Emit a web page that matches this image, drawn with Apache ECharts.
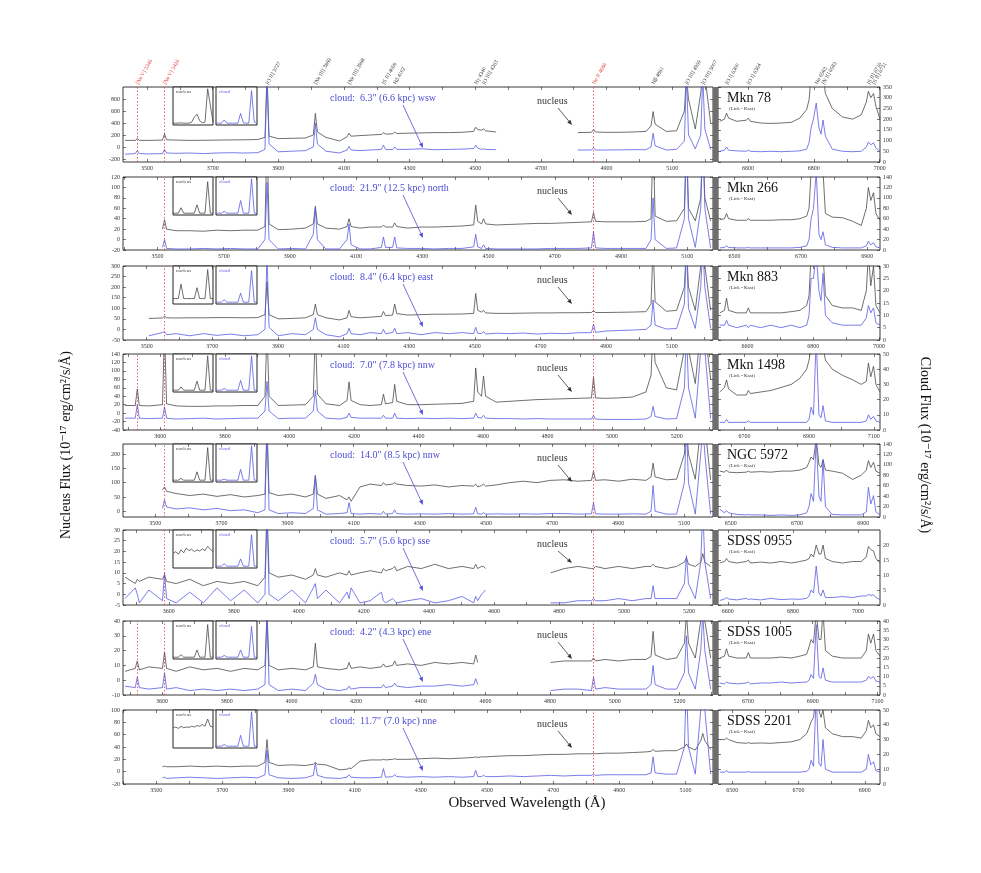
<!DOCTYPE html>
<html>
<head>
<meta charset="utf-8">
<script src="https://cdn.jsdelivr.net/npm/echarts@6/dist/echarts.min.js"></script>
<style>
html, body { margin: 0; background: #fff; }
#chart { width: 981px; height: 873px; }
</style>
</head>
<body>
<div id="chart"></div>
<script>
const _ = null

// galaxies, one row each
const names = ['Mkn 78', 'Mkn 266', 'Mkn 883', 'Mkn 1498', 'NGC 5972', 'SDSS 0955', 'SDSS 1005', 'SDSS 2201']
const zFactor = [1.0372, 1.0279, 1.0375, 1.0547, 1.0297, 1.047, 1.053, 1.029]
const cloudNotes = [
  'cloud:  6.3" (6.6 kpc) wsw', 'cloud:  21.9" (12.5 kpc) north', 'cloud:  8.4" (6.4 kpc) east',
  'cloud:  7.0" (7.8 kpc) nnw', 'cloud:  14.0" (8.5 kpc) nnw', 'cloud:  5.7" (5.6 kpc) sse',
  'cloud:  4.2" (4.3 kpc) ene', 'cloud:  11.7" (7.0 kpc) nne'
]

// rest-frame sampling (Angstrom)
const leftRest = [3310, 3340, 3346, 3352, 3380, 3420, 3426, 3432, 3460, 3500,
  3540, 3580, 3620, 3660, 3700, 3721, 3727, 3733, 3760, 3800,
  3840, 3863, 3869, 3875, 3900, 3940, 3962, 3968, 3974, 4000,
  4030, 4063, 4069, 4075, 4096, 4102, 4108, 4140, 4180, 4220,
  4260, 4300, 4334, 4340, 4346, 4357, 4363, 4369, 4400, 4440,
  4480, 4520, 4560, 4600, 4640, 4680, 4686, 4692, 4720, 4760,
  4800, 4840, 4855, 4861, 4867, 4900, 4930, 4953, 4959, 4965,
  4985, 5001, 5007, 5013, 5030]
const rightRest = [6280, 6294, 6300, 6306, 6330, 6358, 6364, 6370, 6400, 6430,
  6460, 6490, 6515, 6535, 6542, 6548, 6555, 6563, 6571, 6577,
  6583, 6590, 6610, 6640, 6670, 6695, 6710, 6716, 6723, 6731,
  6738, 6750]

const nucleusLeft = [
  [110, 110, 140, 110, 110, 115, 220, 120, 115, 110, 112, 115, 118, 120, 125, 160, 1200, 180, 140, 145,
    150, 200, 560, 250, 160, 100, 170, 230, 180, 190, 200, 210, 240, 215, 220, 250, 225, 230, 235, 240,
    240, 245, 260, 330, 290, 280, 300, 270, 250, _, _, _, _, _, 240, 245, 290, 250, 245, 245,
    250, 260, 350, 590, 380, 260, 270, 600, 1200, 800, 300, 900, 1200, 1200, 400],
  [_, _, _, _, _, 20, 38, 20, 17, 17, 16, 18, 17, 18, 18, 25, 200, 30, 19, 20,
    22, 30, 64, 30, 22, 20, 25, 40, 25, 22, 24, 24, 28, 24, 24, 32, 25, 22, 24, 24,
    25, 26, 28, 66, 35, 30, 40, 30, 28, 29, 30, 31, 31, 32, 33, 34, 52, 35, 34, 34,
    34, 35, 40, 200, 45, 35, 36, 60, 200, 60, 36, 80, 200, 80, 36],
  [_, _, _, _, 52, 54, 62, 55, 54, 55, 55, 56, 56, 55, 56, 70, 225, 70, 50, 52,
    55, 70, 120, 70, 55, 45, 55, 90, 60, 55, 58, 62, 85, 65, 68, 120, 75, 68, 70, 72,
    72, 73, 76, 170, 90, 82, 90, 78, 76, 76, 77, 78, 78, 79, 79, 80, 90, 80, 80, 81,
    82, 84, 120, 400, 130, 86, 90, 200, 400, 200, 90, 300, 400, 300, 90],
  [18, 18, 57, 18, 17, 20, 200, 22, 17, 16, 16, 17, 17, 18, 18, 40, 200, 40, 18, 19,
    20, 40, 200, 45, 22, 18, 30, 74, 30, 20, 18, 20, 45, 22, 25, 68, 28, 20, 20, 21,
    22, 23, 28, 107, 50, 40, 88, 40, 26, 28, 30, 32, 33, 34, 35, 36, 85, 36, 35, 36,
    38, 50, 90, 200, 120, 60, 55, 150, 200, 150, 70, 200, 200, 200, 80],
  [_, _, _, _, _, 75, 85, 70, 62, 55, 60, 52, 58, 50, 55, 60, 300, 65, 55, 60,
    50, 60, 125, 60, 45, 55, 40, 50, 35, 85, 95, 90, 100, 92, 95, 100, 95, 90, 88, 92,
    85, 90, 88, 95, 85, 90, 95, 88, 92, 100, 105, 100, 108, 110, 105, 108, 140, 108, 110, 105,
    112, 108, 120, 168, 120, 110, 112, 200, 300, 200, 112, 300, 300, 300, 110],
  [8, 5, 7, 6, 8, 7, 9, 6, 5, 7, 4, 6, 5, 6, 4, 8, 40, 10, 8, 9,
    7, 9, 12, 9, 8, 10, 9, 11, 9, 10, 11, 10, 12, 11, 12, 13, 11, 13, 12, 14,
    12, 13, 12, 14, 12, 13, 13, 12, _, _, _, _, 10, 12, 13, 12, 12, 13, 12, 13,
    12, 13, 13, 14, 13, 12, 13, 15, 17, 14, 13, 15, 19, 15, 13],
  [6, 8, 13, 7, 9, 8, 19, 8, 6, 9, 7, 8, 6, 8, 7, 10, 45, 10, 7, 8,
    7, 9, 25, 9, 8, 7, 8, 12, 8, 9, 8, 9, 11, 9, 10, 13, 10, 11, 10, 12,
    11, 12, 11, 17, 12, _, _, _, _, _, _, _, 12, 13, 13, 13, 15, 13, 14, 13,
    14, 14, 16, 33, 17, 14, 15, 25, 45, 25, 15, 40, 45, 40, 15],
  [_, _, _, _, _, 8, 9, 8, 8, 9, 8, 9, 8, 9, 9, 15, 52, 15, 10, 11,
    10, 12, 15, 12, 11, 3, 4, 6, 5, 17, 19, 19, 20, 19, 20, 21, 20, 20, 21, 22,
    21, 22, 23, 24, 23, 24, 24, 24, 25, 26, 26, 27, 28, 28, 29, 29, 30, 29, 30, 30,
    31, 32, 33, 36, 33, 34, 34, 40, 45, 40, 35, 50, 62, 50, 36]
]

const cloudLeft = [
  [-120, -110, -60, -110, -115, -110, -40, -100, -105, -100, -110, -100, -95, -100, -95, -40, 1200, 50, -80, -70,
    -60, 0, 400, 50, -70, -100, -50, 10, -50, -60, -50, -40, 30, -40, -45, 0, -40, -40, -30, -45,
    -40, -35, -25, 30, -20, -40, -30, -40, -45, _, _, _, _, _, -50, -50, -10, -50, -50, -48,
    -45, -45, 0, 230, 20, -50, -40, 100, 1200, 200, -30, 200, 1200, 300, -40],
  [_, _, _, _, _, -15, 0, -17, -18, -18, -17, -18, -17, -18, -18, 0, 110, 0, -18, -17,
    -18, 10, 60, 0, -18, -18, 0, 30, -10, -18, -18, -15, 5, -15, -15, 5, -16, -17, -17, -18,
    -17, -17, -14, 10, -14, -17, -10, -17, -18, -18, -18, -18, -17, -17, -17, -16, 15, -16, -17, -17,
    -17, -17, 0, 80, 0, -17, -16, 40, 200, 40, -15, 60, 200, 60, -16],
  [_, _, _, _, -30, -15, -10, -25, -20, -30, -20, -28, -22, -30, -25, 0, 350, 10, -30, -20,
    -25, 0, 55, 0, -25, -35, -20, 5, -20, -25, -15, -20, 0, -20, -15, 5, -20, -15, -25, -15,
    -20, -15, -20, 10, -18, -20, -10, -22, -18, -20, -17, -22, -18, -20, -16, -15, 25, -14, -8, -5,
    -3, 0, 20, 140, 20, 2, 4, 120, 400, 100, 5, 200, 400, 200, 5],
  [-12, -12, 20, -12, -13, -12, 15, -12, -14, -13, -12, -14, -13, -12, -12, 5, 75, 5, -13, -12,
    -12, 5, 55, 5, -12, -14, -10, 0, -10, -12, -12, -12, -5, -12, -12, 0, -12, -13, -12, -13,
    -12, -13, -12, 0, -10, -12, -5, -12, -13, -13, -14, -13, -14, -14, -14, -14, -6, -14, -15, -15,
    -15, -14, -8, 16, -8, -14, -13, 60, 200, 60, -12, 150, 200, 150, -13],
  [_, _, _, _, _, 10, 40, 15, 8, 12, 5, 10, 2, 5, -5, 5, 300, 5, -8, -5,
    -8, 10, 125, 5, -10, -8, -5, 30, -8, -10, -8, -10, 0, -10, -8, 5, -8, -10, -9, -10,
    -8, -10, -9, 14, -9, -10, -5, -10, -9, -10, -9, -10, -8, -8, -10, -9, 30, -9, -10, -10,
    -9, -10, 0, 90, 0, -10, -10, 100, 300, 100, -10, 200, 300, 200, -10],
  [-2, 3, 0, -4, 2, -3, 10, -2, -4, 1, -4, 3, -3, 2, -4, 0, 40, 0, -3, 2,
    -4, 3, 5, -2, 2, -4, 1, -2, 3, -4, -3, 1, -3, -4, -2, -3, -4, -3, -2, -4,
    -3, -1, -4, -1, -3, 0, 1, 2, _, _, _, _, -4, -4, -3, -3, -2, -3, -3, -2,
    -3, -2, -2, 4, -2, -2, -2, 5, 18, 5, -2, 15, 40, 15, -2],
  [-4, -5, 2, -5, -6, -5, 5, -6, -5, -7, -6, -7, -6, -7, -6, -3, 45, -3, -7, -6,
    -7, -2, 4, -3, -6, -7, -6, -4, -6, -5, -5, -5, -3, -5, -4, -2, -4, -5, -4, -4,
    -3, -4, -3, 1, -3, _, _, _, _, _, _, _, -7, -6, -6, -7, 2, -6, -5, -6,
    -6, -6, -3, 10, -3, -6, -6, 5, 30, 5, -6, 20, 45, 20, -6],
  [_, _, _, _, _, -10, -9, -11, -10, -9, -10, -11, -10, -9, -10, -5, 35, -5, -10, -11,
    -10, -6, 14, -6, -10, -11, -9, -5, -9, -10, -10, -9, 5, -9, -8, -5, -8, -9, -8, -9,
    -8, -9, -8, 2, -8, -8, -6, -8, -8, -7, -8, -7, -6, -7, -6, -6, -4, -6, -5, -5,
    -5, -5, -2, 24, -2, -4, -4, 40, 150, 40, -4, 100, 150, 100, -4]
]

const nucleusRight = [
  [190, 200, 228, 205, 190, 195, 205, 190, 182, 180, 182, 185, 205, 245, 290, 400, 400, 400, 400, 400, 400, 320, 250, 210, 200, 220, 280, 330, 300, 320, 260, 200],
  [58, 60, 70, 60, 57, 57, 60, 57, 57, 57, 58, 58, 60, 65, 80, 150, 150, 150, 150, 150, 150, 70, 63, 62, 55, 47, 80, 120, 95, 110, 70, 57],
  [11, 12, 17, 12, 11, 11, 13, 11, 11, 11, 11, 11.5, 12, 14, 18, 35, 35, 35, 35, 35, 35, 18, 14, 13, 13, 12, 20, 35, 22, 30, 14, 11],
  [25, 28, 33, 27, 23, 23, 26, 24, 25, 26, 28, 30, 34, 40, 46, 55, 60, 60, 58, 50, 55, 46, 40, 36, 33, 30, 32, 44, 35, 42, 30, 25],
  [88, 86, 90, 86, 85, 86, 88, 86, 87, 86, 88, 88, 90, 95, 105, 115, 110, 150, 100, 95, 110, 90, 88, 84, 72, 80, 90, 108, 95, 105, 88, 84],
  [14, 14.5, 15.5, 14.5, 14, 14.5, 15, 14, 14.3, 14, 14.5, 14, 14.5, 15, 15.5, 17, 16, 20, 17, 17, 20, 15.5, 14.5, 14, 14.5, 14.5, 16, 19.5, 18.5, 18, 15.5, 14],
  [20, 21, 25, 21, 20, 20, 23, 20, 20, 20, 20.5, 20, 21, 22, 26, 30, 28, 45, 30, 30, 45, 24, 21, 20, 20, 20, 24, 33, 28, 33, 24, 21],
  [30, 30, 31, 30, 28, 27.5, 28, 27.5, 27.7, 27.5, 28, 28.5, 30, 34, 38, 42, 45, 60, 50, 45, 50, 38, 34, 32, 32, 31, 36, 43, 38, 40, 34, 32]
]

const cloudRight = [
  [50, 55, 70, 55, 52, 50, 55, 50, 48, 50, 48, 50, 52, 60, 90, 160, 200, 275, 160, 130, 196, 120, 60, 50, 48, 50, 70, 93, 80, 90, 65, 50],
  [4, 5, 8, 5, 4, 4, 5, 4, 4, 4, 4, 4, 5, 8, 20, 60, 80, 150, 30, 20, 35, 10, 5, 4, 4, 4, 8, 17, 10, 14, 6, 4],
  [6, 6, 8, 6, 5, 6, 5, 6, 5, 6, 5, 6, 5, 6, 10, 25, 25, 35, 20, 16, 27, 10, 7, 6, 6, 6, 9, 14, 11, 13, 7, 6],
  [5, 5, 7, 5, 5, 5, 6, 5, 5, 5, 5, 5, 5, 5, 7, 15, 10, 60, 10, 8, 16, 6, 5, 5, 5, 5, 6, 10, 7, 9, 6, 5],
  [15, 8, 12, 8, 5, 4, 5, 4, 4, 3, 4, 3, 4, 8, 20, 45, 30, 150, 40, 30, 110, 20, 5, 4, 4, 4, 10, 57, 25, 41, 10, 4],
  [1.5, 2, 2.5, 2, 1.7, 2.2, 1.8, 2, 1.7, 2.2, 1.8, 2, 1.9, 2.2, 3, 5, 4, 13, 4, 3, 5, 2.5, 2.5, 2.8, 2.5, 3, 3, 3.5, 3.2, 3.4, 2.5, 1.8],
  [6.5, 6, 7, 6.5, 6, 6.5, 7, 6, 6.5, 6.5, 7, 6.5, 6.8, 7, 8, 11, 9, 38, 10, 9, 14.6, 8, 7, 7, 7, 7, 8, 10, 9, 10, 7.5, 7],
  [8, 8, 9, 8, 8, 8, 8.5, 8, 8, 8, 8, 8, 8, 8.5, 10, 16, 12, 60, 14, 12, 30, 10, 8, 8, 8, 8, 10, 20, 13, 15, 9, 8]
]

// small zoom-in insets (relative units 0-100)
const insetNucleus = [
  [5, 5, 5, 6, 5, 5, 5, 8, 22, 30, 12, 6, 8, 100, 55, 8],
  [5, 5, 5, 20, 5, 5, 5, 5, 5, 28, 5, 5, 5, 92, 5, 5],
  [15, 15, 15, 55, 15, 15, 15, 15, 15, 45, 15, 15, 15, 95, 15, 15],
  [5, 5, 5, 14, 5, 5, 5, 5, 5, 30, 5, 5, 5, 100, 5, 5],
  [5, 5, 5, 10, 5, 5, 5, 5, 5, 28, 5, 5, 5, 95, 5, 5],
  [40, 45, 38, 50, 42, 55, 48, 52, 45, 50, 47, 53, 48, 60, 52, 45],
  [5, 5, 5, 12, 5, 5, 5, 5, 5, 25, 5, 5, 5, 95, 5, 5],
  [55, 58, 54, 60, 56, 58, 57, 60, 58, 62, 60, 65, 60, 80, 60, 58]
]
const insetCloud = [
  [5, 5, 5, 14, 5, 5, 5, 5, 5, 32, 6, 5, 5, 95, 8, 5],
  [5, 5, 5, 10, 5, 5, 5, 5, 5, 40, 5, 5, 5, 100, 5, 5],
  [5, 5, 5, 12, 5, 5, 5, 5, 5, 30, 5, 5, 5, 92, 5, 5],
  [5, 5, 5, 10, 5, 5, 5, 5, 5, 32, 5, 5, 5, 100, 5, 5],
  [5, 5, 5, 8, 5, 5, 5, 5, 5, 35, 5, 5, 5, 100, 5, 5],
  [5, 5, 5, 12, 5, 5, 5, 5, 5, 25, 5, 5, 5, 92, 5, 5],
  [5, 5, 5, 10, 5, 5, 5, 5, 5, 25, 5, 5, 5, 90, 5, 5],
  [5, 5, 5, 10, 5, 5, 5, 5, 5, 35, 5, 5, 5, 100, 5, 5]
]

// axis scales and tick labels
const leftYRange = [[-250, 1000], [-20, 120], [-50, 300], [-40, 140], [-20, 235], [-5, 30], [-10, 40], [-20, 100]]
const leftYLabels = [
  [-200, 0, 200, 400, 600, 800], [-20, 0, 20, 40, 60, 80, 100, 120], [-50, 0, 50, 100, 150, 200, 250, 300],
  [-40, -20, 0, 20, 40, 60, 80, 100, 120, 140], [0, 50, 100, 150, 200], [-5, 0, 5, 10, 15, 20, 25, 30],
  [-10, 0, 10, 20, 30, 40], [-20, 0, 20, 40, 60, 80, 100]
]
const rightYRange = [[0, 350], [0, 140], [0, 30], [0, 50], [0, 140], [0, 25], [0, 40], [0, 50]]
const rightYLabels = [
  [0, 50, 100, 150, 200, 250, 300, 350], [0, 20, 40, 60, 80, 100, 120, 140], [0, 5, 10, 15, 20, 25, 30],
  [0, 10, 20, 30, 40, 50], [0, 20, 40, 60, 80, 100, 120, 140], [0, 5, 10, 15, 20],
  [0, 5, 10, 15, 20, 25, 30, 35, 40], [0, 10, 20, 30, 40, 50]
]
const xLabelsA = [3500, 3700, 3900, 4100, 4300, 4500, 4700, 4900, 5100]
const xLabelsB = [3600, 3800, 4000, 4200, 4400, 4600, 4800, 5000, 5200]
const leftXLabels = [xLabelsA, xLabelsA, xLabelsA, xLabelsB, xLabelsA, xLabelsB, xLabelsB, xLabelsA]
const rightXLabels = [[6600, 6800, 7000], [6500, 6700, 6900], [6600, 6800, 7000], [6700, 6900, 7100],
  [6500, 6700, 6900], [6600, 6800, 7000], [6700, 6900, 7100], [6500, 6700, 6900]]

// red dotted lines ([Ne V], He II) drawn in each row
const redLines = [[3346, 3426, 4686], [3426, 4686], [3426, 4686], [3346, 3426, 4686],
  [3426, 4686], [3426, 4686], [3346, 3426, 4686], [4686]]

const lineIds = [
  ['[Ne V] 3346', 3346, 1], ['[Ne V] 3426', 3426, 1], ['[O II] 3727', 3727, 0], ['[Ne III] 3869', 3869, 0],
  ['[Ne III] 3968', 3968, 0], ['[S II] 4069', 4069, 0], ['Hδ 4102', 4102, 0], ['Hγ 4340', 4340, 0],
  ['[O III] 4363', 4363, 0], ['He II 4686', 4686, 1], ['Hβ 4861', 4861, 0], ['[O III] 4959', 4959, 0],
  ['[O III] 5007', 5007, 0], ['[O I] 6300', 6300, 0], ['[O I] 6364', 6364, 0], ['Hα 6563', 6563, 0],
  ['[N II] 6583', 6583, 0], ['[S II] 6716', 6716, 0], ['[S II] 6731', 6731, 0]
]

// layout
const rowTop = [87, 177, 266, 354, 444, 530, 621, 710]
const rowH = [75, 73, 74, 76, 73, 75, 74, 74]
const LEFT = { x: 123, w: 590, rest: [3304, 5037] }
const RIGHT = { x: 718, w: 162, rest: [6275, 6750] }
const SERIF = 'Liberation Serif, DejaVu Serif, serif'
const GREY = '#4a4a4a'
const BLUE = '#5a5ae4'
const RED = '#e23a3a'

const grids = []
const xAxes = []
const yAxes = []
const series = []
const graphics = []

function addGrid(g) { grids.push(g); return grids.length - 1 }
function addX(a) { xAxes.push(a); return xAxes.length - 1 }
function addY(a) { yAxes.push(a); return yAxes.length - 1 }

function restToX(rest) {
  if (rest > 6000) return RIGHT.x + (rest - RIGHT.rest[0]) * RIGHT.w / (RIGHT.rest[1] - RIGHT.rest[0])
  return LEFT.x + (rest - LEFT.rest[0]) * LEFT.w / (LEFT.rest[1] - LEFT.rest[0])
}

function tickSet(labels) {
  const out = []
  labels.forEach(v => { out.push(v - 100, v) })
  out.push(labels[labels.length - 1] + 100)
  return out
}

const tickStyle = { color: '#222', width: 0.6 }
const labelStyle = { fontSize: 6, color: '#333', fontFamily: SERIF, formatter: v => String(v) }
const noLine = { show: false, onZero: false }

function mainPanel(row, isLeft) {
  const p = isLeft ? LEFT : RIGHT
  const f = zFactor[row]
  const gi = addGrid({
    left: p.x, top: rowTop[row], width: p.w, height: rowH[row],
    show: true, borderColor: '#222', borderWidth: 0.9, backgroundColor: 'transparent'
  })
  const xmin = p.rest[0] * f
  const xmax = p.rest[1] * f
  const labels = isLeft ? leftXLabels[row] : rightXLabels[row]
  const ticks = tickSet(labels)
  const xa = addX({
    type: 'value', gridIndex: gi, min: xmin, max: xmax, position: 'bottom',
    axisLine: noLine, splitLine: { show: false },
    axisTick: { inside: true, length: 3, customValues: ticks, lineStyle: tickStyle },
    axisLabel: Object.assign({ customValues: labels, margin: 3 }, labelStyle)
  })
  addX({
    type: 'value', gridIndex: gi, min: xmin, max: xmax, position: 'top',
    axisLine: noLine, splitLine: { show: false },
    axisTick: { inside: true, length: 3, customValues: ticks, lineStyle: tickStyle },
    axisLabel: { show: false }
  })
  const yr = isLeft ? leftYRange[row] : rightYRange[row]
  const yl = isLeft ? leftYLabels[row] : rightYLabels[row]
  const ya = addY({
    type: 'value', gridIndex: gi, min: yr[0], max: yr[1], position: isLeft ? 'left' : 'right',
    axisLine: noLine, splitLine: { show: false },
    axisTick: { inside: true, length: 3, customValues: yl, lineStyle: tickStyle },
    axisLabel: Object.assign({ customValues: yl, margin: 3 }, labelStyle)
  })
  addY({
    type: 'value', gridIndex: gi, min: yr[0], max: yr[1], position: isLeft ? 'right' : 'left',
    axisLine: noLine, splitLine: { show: false },
    axisTick: { inside: true, length: 3, customValues: yl, lineStyle: tickStyle },
    axisLabel: { show: false }
  })
  const rest = isLeft ? leftRest : rightRest
  const nuc = isLeft ? nucleusLeft[row] : nucleusRight[row]
  const cld = isLeft ? cloudLeft[row] : cloudRight[row]
  const pts = vals => rest.map((r, k) => [r * f, vals[k] == null ? '-' : vals[k]])
  series.push({
    type: 'line', xAxisIndex: xa, yAxisIndex: ya, data: pts(nuc), showSymbol: false,
    lineStyle: { color: GREY, width: 0.8 }, silent: true
  })
  const cloudSeries = {
    type: 'line', xAxisIndex: xa, yAxisIndex: ya, data: pts(cld), showSymbol: false,
    lineStyle: { color: BLUE, width: 0.8 }, silent: true
  }
  if (isLeft) {
    cloudSeries.markLine = {
      silent: true, symbol: ['none', 'none'], label: { show: false },
      lineStyle: { color: RED, type: [1.5, 2], width: 0.8 },
      data: redLines[row].map(r => ({ xAxis: r * f }))
    }
  }
  series.push(cloudSeries)
}

function insetPanel(row, left, width, vals, color, title) {
  const gi = addGrid({
    left: left, top: rowTop[row], width: width, height: 38,
    show: true, borderColor: '#222', borderWidth: 1, backgroundColor: '#fff'
  })
  const xa = addX({ type: 'value', gridIndex: gi, min: 0, max: vals.length - 1, show: false })
  const ya = addY({ type: 'value', gridIndex: gi, min: 0, max: 105, show: false })
  series.push({
    type: 'line', xAxisIndex: xa, yAxisIndex: ya, data: vals.map((v, k) => [k, v]),
    showSymbol: false, lineStyle: { color: color, width: 0.8 }, silent: true, z: 5
  })
  graphics.push({
    type: 'text', x: left + 3, y: rowTop[row] + 5, z: 10,
    style: { text: title, fill: color, fontSize: 5, fontFamily: SERIF, textVerticalAlign: 'middle' }
  })
}

function arrow(x1, y1, x2, y2, color) {
  const a = Math.atan2(y2 - y1, x2 - x1)
  const L = 5, W = 2
  const bx = x2 - L * Math.cos(a), by = y2 - L * Math.sin(a)
  graphics.push({ type: 'line', z: 10, shape: { x1, y1, x2: bx, y2: by }, style: { stroke: color, lineWidth: 0.8 } })
  graphics.push({
    type: 'polygon', z: 10,
    shape: { points: [[x2, y2], [bx - W * Math.sin(a), by + W * Math.cos(a)], [bx + W * Math.sin(a), by - W * Math.cos(a)]] },
    style: { fill: color }
  })
}

for (let r = 0; r < names.length; r++) {
  const T = rowTop[r]
  mainPanel(r, true)
  mainPanel(r, false)
  insetPanel(r, 173, 40, insetNucleus[r], GREY, 'nucleus')
  insetPanel(r, 216, 41, insetCloud[r], BLUE, 'cloud')
  // divider between the two wavelength ranges
  graphics.push({ type: 'rect', z: 9, shape: { x: 713, y: T, width: 5, height: rowH[r] }, style: { fill: '#6e6e6e' } })
  graphics.push({
    type: 'text', x: 330, y: T + 11, z: 10,
    style: { text: cloudNotes[r], fill: '#4b4bd6', fontSize: 10, fontFamily: SERIF, textVerticalAlign: 'middle' }
  })
  arrow(403, T + 18, 423, T + 61, '#4b4bd6')
  graphics.push({
    type: 'text', x: 537, y: T + 14, z: 10,
    style: { text: 'nucleus', fill: '#333', fontSize: 10, fontFamily: SERIF, textVerticalAlign: 'middle' }
  })
  arrow(558, T + 21, 572, T + (r === 5 ? 33 : 38), '#333')
  graphics.push({
    type: 'text', x: 727, y: T + 11, z: 10,
    style: { text: names[r], fill: '#111', fontSize: 14, fontFamily: SERIF, textVerticalAlign: 'middle' }
  })
  graphics.push({
    type: 'text', x: 729, y: T + 22, z: 10,
    style: { text: '(Lick - Kast)', fill: '#333', fontSize: 5, fontFamily: SERIF, textVerticalAlign: 'middle' }
  })
}

// line identifications above the top row
lineIds.forEach(([txt, rest, red]) => {
  graphics.push({
    type: 'text', x: restToX(rest), y: 84, rotation: Math.PI / 3, z: 10,
    style: { text: txt, fill: red ? RED : '#333', fontSize: 5.5, fontFamily: SERIF, textAlign: 'left', textVerticalAlign: 'middle' }
  })
})

graphics.push({
  type: 'text', x: 527, y: 803, z: 10,
  style: { text: 'Observed Wavelength (Å)', fill: '#111', fontSize: 15, fontFamily: SERIF, textAlign: 'center', textVerticalAlign: 'middle' }
})
graphics.push({
  type: 'text', x: 66, y: 445, rotation: Math.PI / 2, z: 10,
  style: { text: 'Nucleus Flux (10⁻¹⁷ erg/cm²/s/Å)', fill: '#111', fontSize: 14, fontFamily: SERIF, textAlign: 'center', textVerticalAlign: 'middle' }
})
graphics.push({
  type: 'text', x: 925, y: 445, rotation: -Math.PI / 2, z: 10,
  style: { text: 'Cloud Flux (10⁻¹⁷ erg/cm²/s/Å)', fill: '#111', fontSize: 14, fontFamily: SERIF, textAlign: 'center', textVerticalAlign: 'middle' }
})

const chart = echarts.init(document.getElementById('chart'), null, { renderer: 'canvas' })
chart.setOption({
  animation: false,
  backgroundColor: '#fff',
  grid: grids,
  xAxis: xAxes,
  yAxis: yAxes,
  series: series,
  graphic: graphics
})
</script>
</body>
</html>
